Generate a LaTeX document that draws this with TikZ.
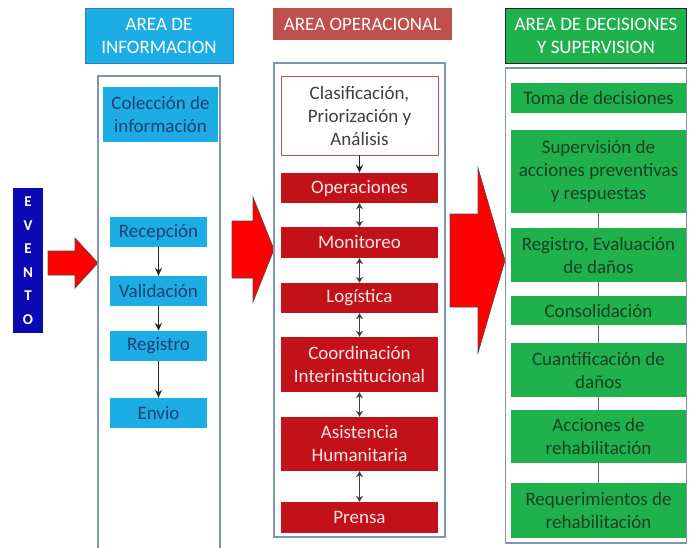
\documentclass[tikz,border=0pt]{standalone}
\usepackage{fontspec}
\setmainfont{Carlito}
\usetikzlibrary{arrows.meta}
\definecolor{infocyan}{HTML}{1CADE4}
\definecolor{infoline}{HTML}{2F7FB8}
\definecolor{infotext}{HTML}{1F3F73}
\definecolor{ophead}{HTML}{C0504D}
\definecolor{opred}{HTML}{C3111A}
\definecolor{optext}{HTML}{FBE6E6}
\definecolor{decgreen}{HTML}{1FB24C}
\definecolor{dectext}{HTML}{183F22}
\definecolor{frameline}{HTML}{7F96B2}
\definecolor{eventblue}{HTML}{0A0AB4}

\begin{document}
\begin{tikzpicture}[x=1pt, y=-1pt,
    areabox/.style={inner sep=0pt, align=center, font=\fontsize{19}{23}\selectfont},
    infobox/.style={areabox, fill=infocyan, text=infotext},
    opbox/.style={areabox, fill=opred, text=optext},
    decbox/.style={areabox, fill=decgreen, text=dectext},
    frame/.style={draw=frameline, line width=1.4pt, inner sep=0pt},
    bigarrow/.style={fill=red, draw=gray!60!black, line width=0.6pt, line join=miter},
    infoarrow/.style={-{Stealth[length=8pt,width=7pt]}, line width=1.2pt, draw=black!85},
    oparrow/.style={{Stealth[length=6pt,width=7pt]}-{Stealth[length=6pt,width=7pt]}, line width=1.8pt, draw=black!75},
    decline/.style={draw=gray!80!black, line width=1pt}]
    \useasboundingbox (0,0) rectangle (689,547);

    % EVENTO
    \node[fill=eventblue, text=white, inner sep=0pt, minimum width=30, minimum height=145,
          align=center, font=\fontsize{15}{23.5}\bfseries\selectfont] (evento) at (28,260.5)
          {E\\V\\E\\N\\T\\O};

    % flechas grandes
    \filldraw[bigarrow] (48,251) -- (75,251) -- (75,238) -- (98,263) -- (75,288) -- (75,275) -- (48,275) -- cycle;
    \filldraw[bigarrow] (232,221) -- (253,221) -- (253,197) -- (274,249.5) -- (253,302) -- (253,278) -- (232,278) -- cycle;
    \filldraw[bigarrow] (450,214) -- (478,214) -- (478,168) -- (505,260.5) -- (478,353) -- (478,307) -- (450,307) -- cycle;

    % AREA DE INFORMACION
    \node[infobox, draw=infoline, text=white, minimum width=148, minimum height=55] (hinfo) at (159,35.5) {AREA DE\\INFORMACION};
    \node[frame, minimum width=122, minimum height=484] (finfo) at (159,318) {};
    \node[infobox, minimum width=115, minimum height=55] (colec) at (160.5,114.5) {Colección de\\información};
    \node[infobox, minimum width=97, minimum height=30] (recep) at (158.5,232) {Recepción};
    \node[infobox, minimum width=97, minimum height=30] (valid) at (158.5,291) {Validación};
    \node[infobox, minimum width=97, minimum height=30] (regis) at (158.5,346) {Registro};
    \node[infobox, minimum width=97, minimum height=30] (envio) at (158.5,413) {Envio};

    \draw[infoarrow] (recep) -- (valid);
    \draw[infoarrow] (valid) -- (regis);
    \draw[infoarrow] (regis) -- (envio);

    % AREA OPERACIONAL
    \node[areabox, fill=ophead, text=white, minimum width=179, minimum height=32] (hop) at (362.5,24) {AREA OPERACIONAL};
    \node[frame, minimum width=171, minimum height=474] (fop) at (359.5,300) {};
    \node[areabox, draw=ophead, line width=0.5pt, fill=white, text=black!75, minimum width=157, minimum height=79] (clasif) at (359.5,115.5) {Clasificación,\\Priorización y\\Análisis};
    \node[opbox, minimum width=157, minimum height=30] (oper) at (359.5,188) {Operaciones};
    \node[opbox, minimum width=157, minimum height=31] (monit) at (359.5,242.5) {Monitoreo};
    \node[opbox, minimum width=157, minimum height=30] (logis) at (359.5,298) {Logística};
    \node[opbox, minimum width=157, minimum height=55] (coord) at (359.5,364.5) {Coordinación\\Interinstitucional};
    \node[opbox, minimum width=157, minimum height=54] (asist) at (359.5,444) {Asistencia\\Humanitaria};
    \node[opbox, minimum width=157, minimum height=31] (prensa) at (359.5,517.5) {Prensa};

    \draw[infoarrow, line width=1.6pt] (clasif) -- (oper);
    \draw[oparrow] (oper) -- (monit);
    \draw[oparrow] (monit) -- (logis);
    \draw[oparrow] (logis) -- (coord);
    \draw[oparrow] (coord) -- (asist);
    \draw[oparrow] (asist) -- (prensa);

    % AREA DE DECISIONES Y SUPERVISION
    \node[areabox, fill=decgreen, draw=black!85, line width=1.6pt, text=white, minimum width=181, minimum height=55] (hdec) at (596,36) {AREA DE DECISIONES\\Y SUPERVISION};
    \node[frame, minimum width=181, minimum height=475] (fdec) at (596,305.5) {};
    \node[decbox, minimum width=175, minimum height=30] (toma) at (598.5,98) {Toma de decisiones};
    \node[decbox, minimum width=175, minimum height=83] (superv) at (598.5,171.5) {Supervisión de\\acciones preventivas\\y respuestas};
    \node[decbox, minimum width=175, minimum height=54] (regev) at (598.5,255) {Registro, Evaluación\\de daños};
    \node[decbox, minimum width=175, minimum height=29] (consol) at (598.5,310.5) {Consolidación};
    \node[decbox, minimum width=175, minimum height=54] (cuant) at (598.5,370) {Cuantificación de\\daños};
    \node[decbox, minimum width=175, minimum height=53] (acc) at (598.5,436.5) {Acciones de\\rehabilitación};
    \node[decbox, minimum width=175, minimum height=55] (req) at (598.5,510.5) {Requerimientos de\\rehabilitación};

    \draw[decline] (superv) -- (regev);
    \draw[decline] (regev) -- (consol);
    \draw[decline] (consol) -- (cuant);
    \draw[decline] (cuant) -- (acc);
    \draw[decline] (acc) -- (req);
\end{tikzpicture}
\end{document}
